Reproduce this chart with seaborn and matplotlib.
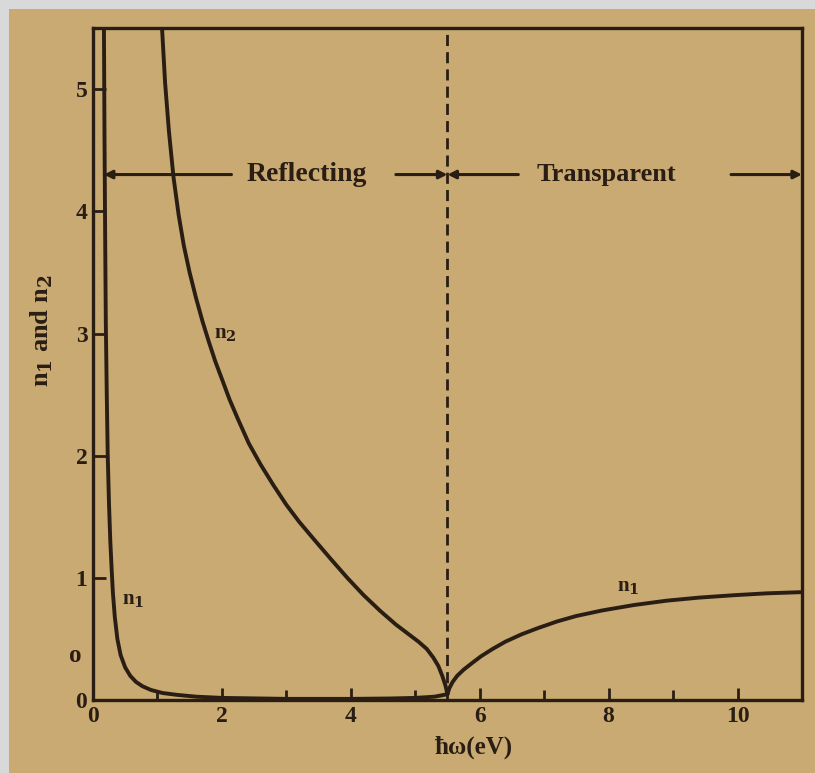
import numpy as np
import pandas as pd
import matplotlib
matplotlib.use("Agg")
import matplotlib.pyplot as plt
import seaborn as sns
from matplotlib.patches import Rectangle

# Photon energy (eV) and optical constants of a free-electron metal
plasma_energy = 5.5

n2_energy = [1.07, 1.12, 1.18, 1.25, 1.33, 1.41, 1.50, 1.60, 1.70, 1.80, 1.90,
             2.00, 2.12, 2.25, 2.42, 2.60, 2.80, 3.00, 3.20, 3.44, 3.70, 3.95,
             4.20, 4.46, 4.70, 4.90, 5.05, 5.18, 5.28, 5.36, 5.42, 5.47, 5.50]
n2_value = [5.52, 5.05, 4.65, 4.28, 3.97, 3.72, 3.50, 3.29, 3.10, 2.93, 2.77,
            2.63, 2.46, 2.30, 2.10, 1.93, 1.76, 1.60, 1.46, 1.31, 1.15, 1.00,
            0.86, 0.73, 0.62, 0.54, 0.48, 0.42, 0.35, 0.28, 0.20, 0.12, 0.05]

n1_low_energy = [0.17, 0.18, 0.19, 0.20, 0.215, 0.23, 0.25, 0.27, 0.29, 0.31,
                 0.34, 0.38, 0.43, 0.50, 0.58, 0.67, 0.77, 0.90, 1.08, 1.30,
                 1.60, 2.00, 3.00, 4.00, 4.60, 5.00, 5.30, 5.50]
n1_low_value = [5.60, 4.60, 3.80, 3.10, 2.50, 2.00, 1.60, 1.30, 1.08, 0.88,
                0.68, 0.50, 0.37, 0.27, 0.20, 0.15, 0.115, 0.085, 0.06, 0.045,
                0.03, 0.02, 0.012, 0.012, 0.015, 0.02, 0.03, 0.05]

n1_high_energy = [5.50, 5.53, 5.58, 5.65, 5.75, 5.87, 6.02, 6.20, 6.40, 6.65,
                  6.90, 7.20, 7.50, 7.90, 8.40, 8.90, 9.40, 9.95, 10.45, 11.0]
n1_high_value = [0.05, 0.10, 0.15, 0.20, 0.25, 0.30, 0.36, 0.42, 0.48, 0.54,
                 0.59, 0.645, 0.69, 0.735, 0.78, 0.815, 0.84, 0.86, 0.875, 0.885]

x_ticks = [0, 2, 4, 6, 8, 10]
x_minor_ticks = [1, 3, 5, 7, 9]
y_ticks = [0, 1, 2, 3, 4, 5]

ink = "#2a1e14"
paper = "#c8aa72"
frame = "#d9d9d9"

sns.set_style("ticks")
plt.rcParams["font.family"] = ["Liberation Serif", "DejaVu Serif"]
plt.rcParams["font.weight"] = "bold"
plt.rcParams["mathtext.fontset"] = "dejavuserif"

curves = pd.concat([
    pd.DataFrame({"energy": n2_energy, "value": n2_value, "branch": "n2"}),
    pd.DataFrame({"energy": n1_low_energy, "value": n1_low_value, "branch": "n1_low"}),
    pd.DataFrame({"energy": n1_high_energy, "value": n1_high_value, "branch": "n1_high"}),
], ignore_index=True)

fig = plt.figure(figsize=(8.15, 7.73), dpi=100, facecolor=frame)
# page background
fig.patches.append(Rectangle((0.011, 0.0), 0.989, 0.989, transform=fig.transFigure,
                             facecolor=paper, edgecolor="none", zorder=-10))
ax = fig.add_axes([0.114, 0.094, 0.870, 0.870])
ax.set_facecolor(paper)

sns.lineplot(data=curves, x="energy", y="value", units="branch", estimator=None,
             sort=False, color=ink, linewidth=2.8, ax=ax, legend=False)
for line in ax.get_lines():
    line.set_solid_joinstyle("round")
    line.set_solid_capstyle("round")

ax.axvline(plasma_energy, color=ink, linewidth=2.0, linestyle=(0, (4, 2.2)))

ax.set_xlim(0, 11)
ax.set_ylim(0, 5.5)
ax.set_xticks(x_ticks)
ax.set_xticks(x_minor_ticks, minor=True)
ax.set_yticks(y_ticks)
ax.set_xticklabels([str(t) for t in x_ticks], fontsize=17, fontweight="bold", color=ink)
ax.set_yticklabels([str(t) for t in y_ticks], fontsize=17, fontweight="bold", color=ink)
ax.tick_params(axis="both", which="both", direction="in", length=9, width=2,
               color=ink, pad=4)
ax.tick_params(axis="x", which="minor", length=7)

for side in ["left", "right", "top", "bottom"]:
    ax.spines[side].set_visible(True)
    ax.spines[side].set_color(ink)
    ax.spines[side].set_linewidth(2.4)

ax.set_xlabel("ħω(eV)", fontsize=18, fontweight="bold", color=ink)
ax.xaxis.set_label_coords(0.537, -0.052)
ax.set_ylabel("n$_\\mathbf{1}$ and n$_\\mathbf{2}$", fontsize=19, fontweight="bold", color=ink)
ax.yaxis.set_label_coords(-0.053, 0.55)

# region markers
arrow_y = 4.3
arrow_kw = dict(arrowstyle="-|>", color=ink, lw=2.2, mutation_scale=12,
                shrinkA=0, shrinkB=0)
ax.annotate("", xy=(0.17, arrow_y), xytext=(2.15, arrow_y), arrowprops=arrow_kw)
ax.annotate("", xy=(plasma_energy, arrow_y), xytext=(4.7, arrow_y), arrowprops=arrow_kw)
ax.annotate("", xy=(plasma_energy, arrow_y), xytext=(6.6, arrow_y), arrowprops=arrow_kw)
ax.annotate("", xy=(11.0, arrow_y), xytext=(9.9, arrow_y), arrowprops=arrow_kw)
ax.text(3.32, arrow_y, "Reflecting", fontsize=20, fontweight="bold", color=ink,
        ha="center", va="center")
ax.text(7.97, arrow_y, "Transparent", fontsize=19, fontweight="bold", color=ink,
        ha="center", va="center")

# curve labels
ax.text(2.05, 3.0, "n$_\\mathbf{2}$", fontsize=15, fontweight="bold", color=ink,
        ha="center", va="center")
ax.text(0.62, 0.82, "n$_\\mathbf{1}$", fontsize=15, fontweight="bold", color=ink,
        ha="center", va="center")
ax.text(8.3, 0.93, "n$_\\mathbf{1}$", fontsize=15, fontweight="bold", color=ink,
        ha="center", va="center")
ax.text(-0.27, 0.37, "o", fontsize=18, fontweight="bold", color=ink,
        ha="center", va="center", clip_on=False)

fig.savefig("out.png", dpi=100, facecolor=frame)
